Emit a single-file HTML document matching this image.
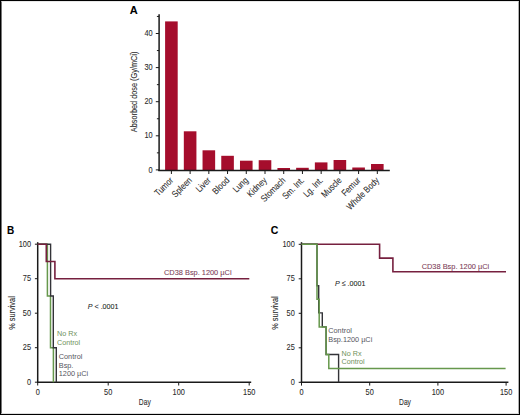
<!DOCTYPE html>
<html><head><meta charset="utf-8"><style>
html,body{margin:0;padding:0;background:#fff;}
#fig{position:relative;width:520px;height:415px;box-sizing:border-box;border:1px solid #000;overflow:hidden;background:#fff;}
svg{position:absolute;left:-1px;top:-1px;}
</style></head><body><div id="fig">
<svg width="520" height="415" viewBox="0 0 520 415">
<text transform="translate(129.70,13.90)" font-family="Liberation Sans, sans-serif" font-size="11" fill="#000" stroke="#000" stroke-width="0.08" text-anchor="start" font-weight="bold">A</text>
<line x1="159.1" y1="14.3" x2="159.1" y2="170.9" stroke="#1a1a1a" stroke-width="1.5"/>
<line x1="155.8" y1="169.90" x2="159" y2="169.90" stroke="#1a1a1a" stroke-width="1"/>
<text transform="translate(152.60,172.50) scale(0.9,1)" font-family="Liberation Sans, sans-serif" font-size="8.2" fill="#2a2a2a" stroke="#2a2a2a" stroke-width="0.08" text-anchor="end" >0</text>
<line x1="156.9" y1="152.85" x2="159" y2="152.85" stroke="#1a1a1a" stroke-width="1"/>
<line x1="155.8" y1="135.80" x2="159" y2="135.80" stroke="#1a1a1a" stroke-width="1"/>
<text transform="translate(152.60,138.40) scale(0.9,1)" font-family="Liberation Sans, sans-serif" font-size="8.2" fill="#2a2a2a" stroke="#2a2a2a" stroke-width="0.08" text-anchor="end" >10</text>
<line x1="156.9" y1="118.75" x2="159" y2="118.75" stroke="#1a1a1a" stroke-width="1"/>
<line x1="155.8" y1="101.70" x2="159" y2="101.70" stroke="#1a1a1a" stroke-width="1"/>
<text transform="translate(152.60,104.30) scale(0.9,1)" font-family="Liberation Sans, sans-serif" font-size="8.2" fill="#2a2a2a" stroke="#2a2a2a" stroke-width="0.08" text-anchor="end" >20</text>
<line x1="156.9" y1="84.65" x2="159" y2="84.65" stroke="#1a1a1a" stroke-width="1"/>
<line x1="155.8" y1="67.60" x2="159" y2="67.60" stroke="#1a1a1a" stroke-width="1"/>
<text transform="translate(152.60,70.20) scale(0.9,1)" font-family="Liberation Sans, sans-serif" font-size="8.2" fill="#2a2a2a" stroke="#2a2a2a" stroke-width="0.08" text-anchor="end" >30</text>
<line x1="156.9" y1="50.55" x2="159" y2="50.55" stroke="#1a1a1a" stroke-width="1"/>
<line x1="155.8" y1="33.50" x2="159" y2="33.50" stroke="#1a1a1a" stroke-width="1"/>
<text transform="translate(152.60,36.10) scale(0.9,1)" font-family="Liberation Sans, sans-serif" font-size="8.2" fill="#2a2a2a" stroke="#2a2a2a" stroke-width="0.08" text-anchor="end" >40</text>
<line x1="156.9" y1="16.45" x2="159" y2="16.45" stroke="#1a1a1a" stroke-width="1"/>
<text transform="translate(137.30,91.90) rotate(-90) scale(0.805,1)" font-family="Liberation Sans, sans-serif" font-size="9.1" fill="#2a2a2a" stroke="#2a2a2a" stroke-width="0.08" text-anchor="middle" >Absorbed dose (Gy/mCi)</text>
<rect x="165.10" y="21.40" width="12.6" height="148.90" fill="#a50d2c"/>
<line x1="171.40" y1="170.5" x2="171.40" y2="174" stroke="#1a1a1a" stroke-width="1"/>
<text transform="translate(173.80,181.00) rotate(-45) scale(0.83,1)" font-family="Liberation Sans, sans-serif" font-size="9.3" fill="#2a2a2a" stroke="#2a2a2a" stroke-width="0.08" text-anchor="end" >Tumor</text>
<rect x="183.82" y="131.30" width="12.6" height="39.00" fill="#a50d2c"/>
<line x1="190.12" y1="170.5" x2="190.12" y2="174" stroke="#1a1a1a" stroke-width="1"/>
<text transform="translate(192.52,181.00) rotate(-45) scale(0.83,1)" font-family="Liberation Sans, sans-serif" font-size="9.3" fill="#2a2a2a" stroke="#2a2a2a" stroke-width="0.08" text-anchor="end" >Spleen</text>
<rect x="202.54" y="150.30" width="12.6" height="20.00" fill="#a50d2c"/>
<line x1="208.84" y1="170.5" x2="208.84" y2="174" stroke="#1a1a1a" stroke-width="1"/>
<text transform="translate(211.24,181.00) rotate(-45) scale(0.83,1)" font-family="Liberation Sans, sans-serif" font-size="9.3" fill="#2a2a2a" stroke="#2a2a2a" stroke-width="0.08" text-anchor="end" >Liver</text>
<rect x="221.26" y="155.80" width="12.6" height="14.50" fill="#a50d2c"/>
<line x1="227.56" y1="170.5" x2="227.56" y2="174" stroke="#1a1a1a" stroke-width="1"/>
<text transform="translate(229.96,181.00) rotate(-45) scale(0.83,1)" font-family="Liberation Sans, sans-serif" font-size="9.3" fill="#2a2a2a" stroke="#2a2a2a" stroke-width="0.08" text-anchor="end" >Blood</text>
<rect x="239.98" y="160.70" width="12.6" height="9.60" fill="#a50d2c"/>
<line x1="246.28" y1="170.5" x2="246.28" y2="174" stroke="#1a1a1a" stroke-width="1"/>
<text transform="translate(248.68,181.00) rotate(-45) scale(0.83,1)" font-family="Liberation Sans, sans-serif" font-size="9.3" fill="#2a2a2a" stroke="#2a2a2a" stroke-width="0.08" text-anchor="end" >Lung</text>
<rect x="258.70" y="160.20" width="12.6" height="10.10" fill="#a50d2c"/>
<line x1="265.00" y1="170.5" x2="265.00" y2="174" stroke="#1a1a1a" stroke-width="1"/>
<text transform="translate(267.40,181.00) rotate(-45) scale(0.83,1)" font-family="Liberation Sans, sans-serif" font-size="9.3" fill="#2a2a2a" stroke="#2a2a2a" stroke-width="0.08" text-anchor="end" >Kidney</text>
<rect x="277.42" y="168.00" width="12.6" height="2.30" fill="#a50d2c"/>
<line x1="283.72" y1="170.5" x2="283.72" y2="174" stroke="#1a1a1a" stroke-width="1"/>
<text transform="translate(286.12,181.00) rotate(-45) scale(0.83,1)" font-family="Liberation Sans, sans-serif" font-size="9.3" fill="#2a2a2a" stroke="#2a2a2a" stroke-width="0.08" text-anchor="end" >Stomach</text>
<rect x="296.14" y="167.80" width="12.6" height="2.50" fill="#a50d2c"/>
<line x1="302.44" y1="170.5" x2="302.44" y2="174" stroke="#1a1a1a" stroke-width="1"/>
<text transform="translate(304.84,181.00) rotate(-45) scale(0.83,1)" font-family="Liberation Sans, sans-serif" font-size="9.3" fill="#2a2a2a" stroke="#2a2a2a" stroke-width="0.08" text-anchor="end" >Sm. Int.</text>
<rect x="314.86" y="162.40" width="12.6" height="7.90" fill="#a50d2c"/>
<line x1="321.16" y1="170.5" x2="321.16" y2="174" stroke="#1a1a1a" stroke-width="1"/>
<text transform="translate(323.56,181.00) rotate(-45) scale(0.83,1)" font-family="Liberation Sans, sans-serif" font-size="9.3" fill="#2a2a2a" stroke="#2a2a2a" stroke-width="0.08" text-anchor="end" >Lg. Int.</text>
<rect x="333.58" y="160.00" width="12.6" height="10.30" fill="#a50d2c"/>
<line x1="339.88" y1="170.5" x2="339.88" y2="174" stroke="#1a1a1a" stroke-width="1"/>
<text transform="translate(342.28,181.00) rotate(-45) scale(0.83,1)" font-family="Liberation Sans, sans-serif" font-size="9.3" fill="#2a2a2a" stroke="#2a2a2a" stroke-width="0.08" text-anchor="end" >Muscle</text>
<rect x="352.30" y="167.50" width="12.6" height="2.80" fill="#a50d2c"/>
<line x1="358.60" y1="170.5" x2="358.60" y2="174" stroke="#1a1a1a" stroke-width="1"/>
<text transform="translate(361.00,181.00) rotate(-45) scale(0.83,1)" font-family="Liberation Sans, sans-serif" font-size="9.3" fill="#2a2a2a" stroke="#2a2a2a" stroke-width="0.08" text-anchor="end" >Femur</text>
<rect x="371.02" y="164.00" width="12.6" height="6.30" fill="#a50d2c"/>
<line x1="377.32" y1="170.5" x2="377.32" y2="174" stroke="#1a1a1a" stroke-width="1"/>
<text transform="translate(379.72,181.00) rotate(-45) scale(0.83,1)" font-family="Liberation Sans, sans-serif" font-size="9.3" fill="#2a2a2a" stroke="#2a2a2a" stroke-width="0.08" text-anchor="end" >Whole Body</text>
<line x1="158.3" y1="170.6" x2="389.8" y2="170.6" stroke="#1a1a1a" stroke-width="1.5"/>
<text transform="translate(6.90,234.00) scale(0.88,1)" font-family="Liberation Sans, sans-serif" font-size="11.4" fill="#000" stroke="#000" stroke-width="0.08" text-anchor="start" font-weight="bold">B</text>
<line x1="37.7" y1="242.2" x2="37.7" y2="382.90" stroke="#1a1a1a" stroke-width="1.5"/>
<line x1="34.90" y1="244.20" x2="37.7" y2="244.20" stroke="#1a1a1a" stroke-width="1"/>
<text transform="translate(31.00,246.70) scale(0.9,1)" font-family="Liberation Sans, sans-serif" font-size="8.2" fill="#2a2a2a" stroke="#2a2a2a" stroke-width="0.08" text-anchor="end" >100</text>
<line x1="34.90" y1="278.70" x2="37.7" y2="278.70" stroke="#1a1a1a" stroke-width="1"/>
<text transform="translate(31.00,281.20) scale(0.9,1)" font-family="Liberation Sans, sans-serif" font-size="8.2" fill="#2a2a2a" stroke="#2a2a2a" stroke-width="0.08" text-anchor="end" >75</text>
<line x1="34.90" y1="313.20" x2="37.7" y2="313.20" stroke="#1a1a1a" stroke-width="1"/>
<text transform="translate(31.00,315.70) scale(0.9,1)" font-family="Liberation Sans, sans-serif" font-size="8.2" fill="#2a2a2a" stroke="#2a2a2a" stroke-width="0.08" text-anchor="end" >50</text>
<line x1="34.90" y1="347.70" x2="37.7" y2="347.70" stroke="#1a1a1a" stroke-width="1"/>
<text transform="translate(31.00,350.20) scale(0.9,1)" font-family="Liberation Sans, sans-serif" font-size="8.2" fill="#2a2a2a" stroke="#2a2a2a" stroke-width="0.08" text-anchor="end" >25</text>
<line x1="34.90" y1="382.20" x2="37.7" y2="382.20" stroke="#1a1a1a" stroke-width="1"/>
<text transform="translate(31.00,384.70) scale(0.9,1)" font-family="Liberation Sans, sans-serif" font-size="8.2" fill="#2a2a2a" stroke="#2a2a2a" stroke-width="0.08" text-anchor="end" >0</text>
<line x1="37.00" y1="382.20" x2="251.20" y2="382.20" stroke="#1a1a1a" stroke-width="1.5"/>
<line x1="37.70" y1="382.20" x2="37.70" y2="385.50" stroke="#1a1a1a" stroke-width="1"/>
<text transform="translate(37.70,394.70) scale(0.9,1)" font-family="Liberation Sans, sans-serif" font-size="8.2" fill="#2a2a2a" stroke="#2a2a2a" stroke-width="0.08" text-anchor="middle" >0</text>
<line x1="108.20" y1="382.20" x2="108.20" y2="385.50" stroke="#1a1a1a" stroke-width="1"/>
<text transform="translate(108.20,394.70) scale(0.9,1)" font-family="Liberation Sans, sans-serif" font-size="8.2" fill="#2a2a2a" stroke="#2a2a2a" stroke-width="0.08" text-anchor="middle" >50</text>
<line x1="178.70" y1="382.20" x2="178.70" y2="385.50" stroke="#1a1a1a" stroke-width="1"/>
<text transform="translate(178.70,394.70) scale(0.9,1)" font-family="Liberation Sans, sans-serif" font-size="8.2" fill="#2a2a2a" stroke="#2a2a2a" stroke-width="0.08" text-anchor="middle" >100</text>
<line x1="249.20" y1="382.20" x2="249.20" y2="385.50" stroke="#1a1a1a" stroke-width="1"/>
<text transform="translate(249.20,394.70) scale(0.9,1)" font-family="Liberation Sans, sans-serif" font-size="8.2" fill="#2a2a2a" stroke="#2a2a2a" stroke-width="0.08" text-anchor="middle" >150</text>
<text transform="translate(144.80,404.90) scale(0.73,1)" font-family="Liberation Sans, sans-serif" font-size="9.2" fill="#2a2a2a" stroke="#2a2a2a" stroke-width="0.08" text-anchor="middle" >Day</text>
<text transform="translate(14.50,313.00) rotate(-90) scale(0.81,1)" font-family="Liberation Sans, sans-serif" font-size="9.1" fill="#2a2a2a" stroke="#2a2a2a" stroke-width="0.08" text-anchor="middle" >% survival</text>
<path d="M37.7,244.3 H47.4 V296 H50.5 V347.7 H53.4 V382.2" fill="none" stroke="#66984c" stroke-width="1.5"/>
<path d="M37.7,244.3 H50.6 V296 H53.3 V347.7 H56.3 V382.2" fill="none" stroke="#333338" stroke-width="1.4"/>
<path d="M37.7,244.3 H46.3 V261.5 H54.9 V278.8 H249.3" fill="none" stroke="#76203f" stroke-width="1.6"/>
<text transform="translate(164.00,275.10)" font-family="Liberation Sans, sans-serif" font-size="7.4" fill="#7d4058" stroke="#7d4058" stroke-width="0.08" text-anchor="start" >CD38 Bsp. 1200 µCi</text>
<text transform="translate(87.8,309.1) scale(0.9,1)" font-family="Liberation Sans, sans-serif" font-size="7.9" fill="#222" stroke="#222" stroke-width="0.08"><tspan font-style="italic">P</tspan> &lt; .0001</text>
<text font-family="Liberation Sans, sans-serif" font-size="7.2" fill="#6f915c"><tspan x="57" y="336">No Rx</tspan><tspan x="57" y="344.6">Control</tspan></text>
<text font-family="Liberation Sans, sans-serif" font-size="7.3" fill="#555560"><tspan x="58.8" y="359.1">Control</tspan><tspan x="58.8" y="367.7">Bsp.</tspan><tspan x="58.8" y="376.4">1200 µCi</tspan></text>
<text transform="translate(270.80,234.00) scale(0.92,1)" font-family="Liberation Sans, sans-serif" font-size="11.4" fill="#000" stroke="#000" stroke-width="0.08" text-anchor="start" font-weight="bold">C</text>
<line x1="301.5" y1="242.2" x2="301.5" y2="383.00" stroke="#1a1a1a" stroke-width="1.5"/>
<line x1="298.70" y1="244.30" x2="301.5" y2="244.30" stroke="#1a1a1a" stroke-width="1"/>
<text transform="translate(294.80,246.80) scale(0.9,1)" font-family="Liberation Sans, sans-serif" font-size="8.2" fill="#2a2a2a" stroke="#2a2a2a" stroke-width="0.08" text-anchor="end" >100</text>
<line x1="298.70" y1="278.80" x2="301.5" y2="278.80" stroke="#1a1a1a" stroke-width="1"/>
<text transform="translate(294.80,281.30) scale(0.9,1)" font-family="Liberation Sans, sans-serif" font-size="8.2" fill="#2a2a2a" stroke="#2a2a2a" stroke-width="0.08" text-anchor="end" >75</text>
<line x1="298.70" y1="313.30" x2="301.5" y2="313.30" stroke="#1a1a1a" stroke-width="1"/>
<text transform="translate(294.80,315.80) scale(0.9,1)" font-family="Liberation Sans, sans-serif" font-size="8.2" fill="#2a2a2a" stroke="#2a2a2a" stroke-width="0.08" text-anchor="end" >50</text>
<line x1="298.70" y1="347.80" x2="301.5" y2="347.80" stroke="#1a1a1a" stroke-width="1"/>
<text transform="translate(294.80,350.30) scale(0.9,1)" font-family="Liberation Sans, sans-serif" font-size="8.2" fill="#2a2a2a" stroke="#2a2a2a" stroke-width="0.08" text-anchor="end" >25</text>
<line x1="298.70" y1="382.30" x2="301.5" y2="382.30" stroke="#1a1a1a" stroke-width="1"/>
<text transform="translate(294.80,384.80) scale(0.9,1)" font-family="Liberation Sans, sans-serif" font-size="8.2" fill="#2a2a2a" stroke="#2a2a2a" stroke-width="0.08" text-anchor="end" >0</text>
<line x1="300.80" y1="382.30" x2="508.40" y2="382.30" stroke="#1a1a1a" stroke-width="1.5"/>
<line x1="301.50" y1="382.30" x2="301.50" y2="385.60" stroke="#1a1a1a" stroke-width="1"/>
<text transform="translate(301.50,394.70) scale(0.9,1)" font-family="Liberation Sans, sans-serif" font-size="8.2" fill="#2a2a2a" stroke="#2a2a2a" stroke-width="0.08" text-anchor="middle" >0</text>
<line x1="369.70" y1="382.30" x2="369.70" y2="385.60" stroke="#1a1a1a" stroke-width="1"/>
<text transform="translate(369.70,394.70) scale(0.9,1)" font-family="Liberation Sans, sans-serif" font-size="8.2" fill="#2a2a2a" stroke="#2a2a2a" stroke-width="0.08" text-anchor="middle" >50</text>
<line x1="437.90" y1="382.30" x2="437.90" y2="385.60" stroke="#1a1a1a" stroke-width="1"/>
<text transform="translate(437.90,394.70) scale(0.9,1)" font-family="Liberation Sans, sans-serif" font-size="8.2" fill="#2a2a2a" stroke="#2a2a2a" stroke-width="0.08" text-anchor="middle" >100</text>
<line x1="506.10" y1="382.30" x2="506.10" y2="385.60" stroke="#1a1a1a" stroke-width="1"/>
<text transform="translate(506.10,394.70) scale(0.9,1)" font-family="Liberation Sans, sans-serif" font-size="8.2" fill="#2a2a2a" stroke="#2a2a2a" stroke-width="0.08" text-anchor="middle" >150</text>
<text transform="translate(405.00,404.90) scale(0.73,1)" font-family="Liberation Sans, sans-serif" font-size="9.2" fill="#2a2a2a" stroke="#2a2a2a" stroke-width="0.08" text-anchor="middle" >Day</text>
<text transform="translate(278.10,313.10) rotate(-90) scale(0.81,1)" font-family="Liberation Sans, sans-serif" font-size="9.1" fill="#2a2a2a" stroke="#2a2a2a" stroke-width="0.08" text-anchor="middle" >% survival</text>
<path d="M301.5,244.3 H379.6 V258.1 H392.9 V271.7 H506" fill="none" stroke="#76203f" stroke-width="1.6"/>
<path d="M301.5,244.3 H317 V285.8 H318.7 V312.9 H322.3 V326.9 H326.1 V354.5 H338.6 V382.3" fill="none" stroke="#333338" stroke-width="1.4"/>
<path d="M301.5,244.3 H317 V299.3 H319.2 V326.9 H326.1 V354.5 H328.8 V368.4 H505.6" fill="none" stroke="#66984c" stroke-width="1.5"/>
<text transform="translate(421.70,269.00)" font-family="Liberation Sans, sans-serif" font-size="7.4" fill="#7d4058" stroke="#7d4058" stroke-width="0.08" text-anchor="start" >CD38 Bsp. 1200 µCi</text>
<text transform="translate(335,285.7) scale(0.9,1)" font-family="Liberation Sans, sans-serif" font-size="7.9" fill="#222" stroke="#222" stroke-width="0.08"><tspan font-style="italic">P</tspan> ≤ .0001</text>
<text font-family="Liberation Sans, sans-serif" font-size="7.3" fill="#555560"><tspan x="328.3" y="333.3">Control</tspan><tspan x="328.3" y="342.4">Bsp.1200 µCi</tspan></text>
<text font-family="Liberation Sans, sans-serif" font-size="7.2" fill="#6f915c"><tspan x="341.5" y="355.8">No Rx</tspan><tspan x="341.5" y="364.4">Control</tspan></text>
<rect x="1" y="1" width="1" height="413" fill="#777"/>
<rect x="518" y="1" width="1" height="413" fill="#b0b0b0"/>
<rect x="1" y="1" width="518" height="1" fill="#d8d8d8" opacity="0.6"/>
<rect x="1" y="413" width="518" height="1" fill="#d0d0d0" opacity="0.7"/>
</svg></div></body></html>
